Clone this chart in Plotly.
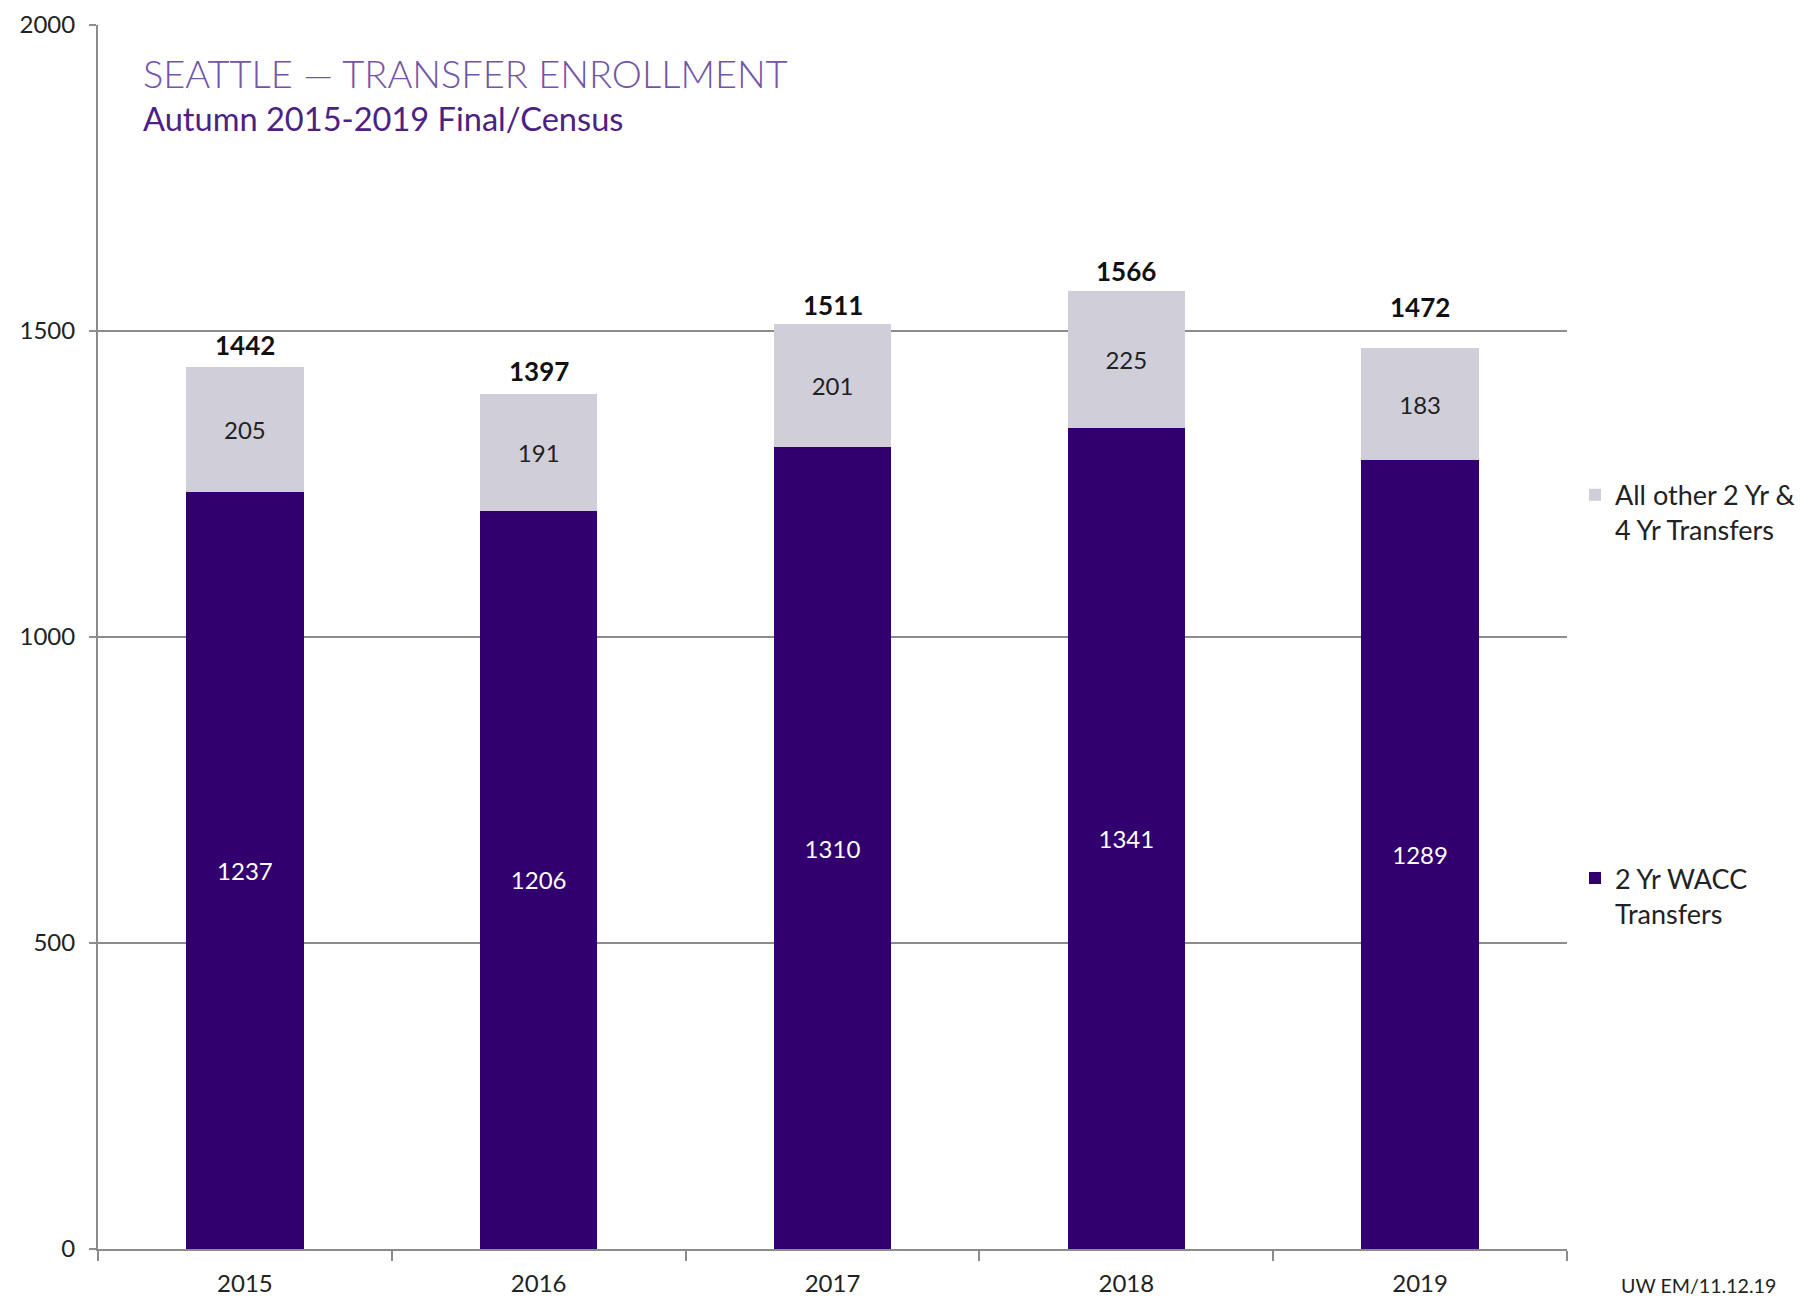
import plotly.graph_objects as go

years = ["2015", "2016", "2017", "2018", "2019"]
wacc = [1237, 1206, 1310, 1341, 1289]
other = [205, 191, 201, 225, 183]
totals = [1442, 1397, 1511, 1566, 1472]

# style: vertical offset (px) of each total label above its bar
total_label_shift = [22, 23, 19, 20, 41]

DARK = "#32006e"
LIGHT = "#d0ced9"
GRID = "#8c8c8c"
FONT = "Lato"

fig = go.Figure()
fig.add_trace(go.Bar(
    x=years, y=wacc, name="2 Yr WACC<br>Transfers", legendgroup="a", legendrank=2,
    marker=dict(color=DARK, line=dict(width=0)),
    text=[str(v) for v in wacc], textposition="inside", insidetextanchor="middle",
    textangle=0, textfont=dict(family=FONT, size=24, color="white"),
    hoverinfo="skip",
))
fig.add_trace(go.Bar(
    x=years, y=other, name="All other 2 Yr &<br>4 Yr Transfers", legendgroup="b", legendrank=1,
    marker=dict(color=LIGHT, line=dict(width=0)),
    text=[str(v) for v in other], textposition="inside", insidetextanchor="middle",
    textangle=0, textfont=dict(family=FONT, size=24, color="#222222"),
    hoverinfo="skip",
))

for i, (t, s) in enumerate(zip(totals, total_label_shift)):
    fig.add_annotation(x=i, y=t, text=f"<b>{t}</b>", showarrow=False,
                       yanchor="middle", yshift=s,
                       font=dict(family=FONT, size=26, color="#111111"))

# page offset (browser body margin)
OFF = 8
W, H = 1819 - OFF, 1311 - OFF
# plot area in page pixels
PL, PR, PT, PB = 98, 1567, 25, 1249.5
ml, mt = PL - OFF, PT - OFF
mr, mb = W - (PR - OFF), H - (PB - OFF)
pw, ph = PR - PL, PB - PT

def px(x):
    return (x - PL) / pw

def py(y):
    return (PB - y) / ph

fig.add_annotation(xref="paper", yref="paper", x=px(141), y=py(73),
                   xanchor="left", yanchor="middle", showarrow=False,
                   text="SEATTLE — TRANSFER ENROLLMENT",
                   font=dict(family=FONT, size=38, color="#7454a8", weight=300))
fig.add_annotation(xref="paper", yref="paper", x=px(141), y=py(119),
                   xanchor="left", yanchor="middle", showarrow=False,
                   text="Autumn 2015-2019 Final/Census",
                   font=dict(family=FONT, size=32.6, color="#4b2283"))
fig.add_annotation(xref="paper", yref="paper", x=px(1619), y=py(1286),
                   xanchor="left", yanchor="middle", showarrow=False,
                   text="UW EM/11.12.19",
                   font=dict(family=FONT, size=19.6, color="#222222"))

# right frame line
fig.add_shape(type="line", xref="paper", yref="paper", x0=px(1818), x1=px(1818),
              y0=py(OFF), y1=py(1311), line=dict(color="#b0b0b0", width=1))

fig.update_layout(
    width=W, height=H,
    margin=dict(l=ml, r=mr, t=mt, b=mb, autoexpand=False),
    barmode="stack", bargap=0.6,
    plot_bgcolor="white", paper_bgcolor="white",
    font=dict(family=FONT, size=24, color="#222222"),
    showlegend=True,
    legend=dict(x=px(1575), y=py(471), xanchor="left", yanchor="top",
                traceorder="grouped", tracegroupgap=310,
                valign="top", font=dict(family=FONT, size=27, color="#222222"),
                bgcolor="rgba(0,0,0,0)"),
    xaxis=dict(type="category", range=[-0.5, 4.5], showline=True, linecolor=GRID, linewidth=2,
               ticks="outside", tickson="boundaries", ticklen=10, tickwidth=2,
               tickcolor=GRID, showgrid=False, automargin=False, tickangle=0,
               ticklabelstandoff=12,
               tickfont=dict(family=FONT, size=24, color="#222222")),
    yaxis=dict(range=[0, 2000], dtick=500, showline=True, linecolor=GRID,
               linewidth=2, ticks="outside", ticklen=7, tickwidth=2, automargin=False,
               tickcolor=GRID, showgrid=True, gridcolor=GRID, gridwidth=2,
               ticklabelstandoff=9,
               zeroline=False, tickfont=dict(family=FONT, size=24, color="#222222")),
)

fig.write_html("out.html")
